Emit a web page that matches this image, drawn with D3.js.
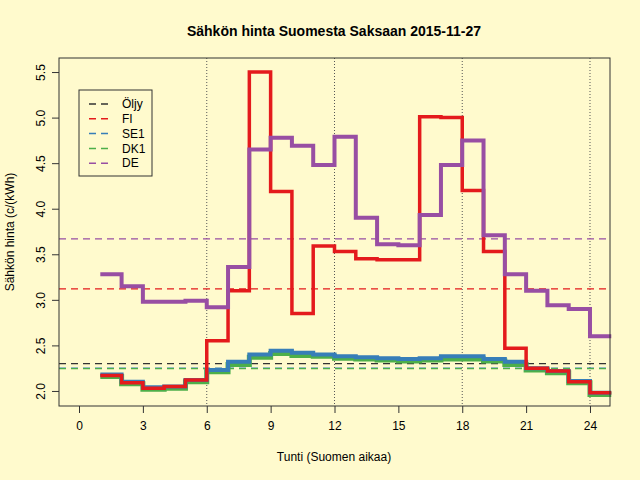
<!DOCTYPE html>
<html><head><meta charset="utf-8">
<script src="https://cdn.jsdelivr.net/npm/d3@7"></script>
<style>body{margin:0;background:#fffacd}</style>
</head><body>
<script>
// hours 1..25 (last value repeated for step end)
var hours = d3.range(1, 26);
var fi  = [2.17,2.09,2.03,2.05,2.12,2.55,3.10,5.50,4.19,2.85,3.59,3.53,3.45,3.44,3.44,5.01,5.00,4.20,3.53,2.47,2.25,2.22,2.10,1.98,1.98];
var se1 = [2.18,2.10,2.04,2.05,2.12,2.23,2.32,2.40,2.44,2.42,2.40,2.38,2.37,2.36,2.35,2.36,2.38,2.38,2.35,2.32,2.25,2.22,2.11,1.98,1.98];
var dk1 = [2.16,2.08,2.02,2.03,2.10,2.21,2.29,2.37,2.41,2.39,2.38,2.36,2.35,2.34,2.33,2.34,2.35,2.35,2.33,2.29,2.23,2.20,2.09,1.96,1.96];
var de  = [3.28,3.15,2.98,2.98,2.99,2.92,3.36,4.65,4.78,4.69,4.48,4.79,3.90,3.61,3.60,3.93,4.48,4.75,3.71,3.28,3.10,2.94,2.90,2.60,2.60];
var avgNames = ["Öljy","FI","SE1","DK1","DE"];
var avgValues = [2.30,3.12,2.25,2.25,3.67];
var colors = ["#333333","#e41a1c","#377eb8","#4daf4a","#984ea3"];
var xTicks = [0,3,6,9,12,15,18,21,24];
var yTicks = [2.0,2.5,3.0,3.5,4.0,4.5,5.0,5.5];
var gridX = [6,12,18,24];

var svg = d3.select("body").append("svg").attr("width",640).attr("height",480)
  .style("font-family","Liberation Sans, Arial, sans-serif");
svg.append("rect").attr("width",640).attr("height",480).attr("fill","#fffacd");

var x = d3.scaleLinear().domain([-0.94,24.94]).range([59,610]);
var y = d3.scaleLinear().domain([1.835,5.654]).range([406,58]);

svg.selectAll(".grid").data(gridX).enter().append("line")
  .attr("x1",d=>x(d)).attr("x2",d=>x(d)).attr("y1",58).attr("y2",406)
  .attr("stroke","#555").attr("stroke-dasharray","1,2").attr("stroke-width",1);

// average lines
avgValues.forEach(function(v,i){
  svg.append("line").attr("x1",59).attr("x2",610).attr("y1",y(v)+(i==3?0.5:0)).attr("y2",y(v)+(i==3?0.5:0))
    .attr("stroke",colors[i]).attr("stroke-width",1.3).attr("stroke-dasharray","7,5");
});

var line = d3.line().x((d,i)=>x(hours[i])).y(d=>y(d)).curve(d3.curveStepAfter);
[[dk1,3,5],[se1,2,4],[fi,1,3.5],[de,4,4]].forEach(function(s){
  svg.append("path").attr("d",line(s[0])).attr("fill","none")
    .attr("stroke",colors[s[1]]).attr("stroke-width",s[2]);
});

svg.append("rect").attr("x",59).attr("y",58).attr("width",551).attr("height",348)
  .attr("fill","none").attr("stroke","#333");

var gx = svg.append("g").attr("transform","translate(0,406)")
  .call(d3.axisBottom(x).tickValues(xTicks).tickSize(7).tickPadding(8));
var gy = svg.append("g").attr("transform","translate(59,0)")
  .call(d3.axisLeft(y).tickValues(yTicks).tickSize(7).tickFormat(d3.format(".1f")));
[gx,gy].forEach(g=>{g.select(".domain").remove();
  g.selectAll("text").attr("font-size",12).attr("fill","#000").style("font-family","Liberation Sans, Arial, sans-serif");
  g.selectAll("line").attr("stroke","#333");});
gy.selectAll("text").attr("x",-18).attr("y",0).attr("dy","0.35em")
  .attr("transform","rotate(-90,-18,0)").attr("text-anchor","middle");

svg.append("text").attr("x",334).attr("y",36).attr("text-anchor","middle")
  .attr("font-weight","bold").attr("font-size",14).text("Sähkön hinta Suomesta Saksaan 2015-11-27");
svg.append("text").attr("x",334).attr("y",461).attr("text-anchor","middle")
  .attr("font-size",12).text("Tunti (Suomen aikaa)");
svg.append("text").attr("transform","translate(14,232) rotate(-90)").attr("text-anchor","middle")
  .attr("font-size",12).text("Sähkön hinta (c/(kWh)");

// legend
var lg = svg.append("g");
lg.append("rect").attr("x",79).attr("y",90).attr("width",73).attr("height",86)
  .attr("fill","none").attr("stroke","#333");
avgNames.forEach(function(n,i){
  var yy = 104 + i*14.8;
  lg.append("line").attr("x1",89).attr("x2",109).attr("y1",yy).attr("y2",yy)
    .attr("stroke",colors[i]).attr("stroke-width",1.5).attr("stroke-dasharray","7,5");
  lg.append("text").attr("x",122).attr("y",yy).attr("dy","0.35em").attr("font-size",12).text(n);
});
</script>
</body></html>
